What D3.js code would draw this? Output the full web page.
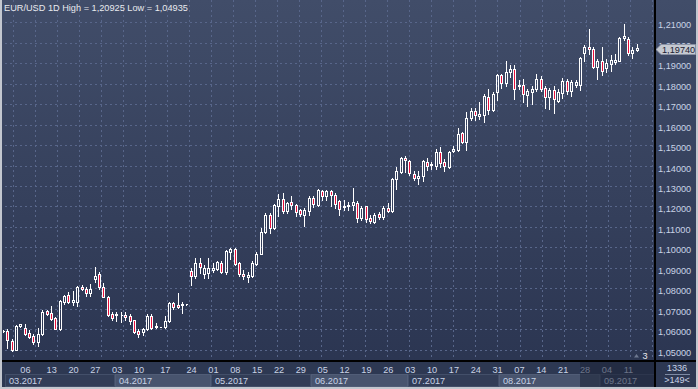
<!DOCTYPE html>
<html>
<head>
<meta charset="utf-8">
<script src="https://cdn.jsdelivr.net/npm/d3@7"></script>
<style>
  html, body { margin: 0; padding: 0; background: #2f3a55; }
  svg { display: block; }
  text { font-family: "Liberation Sans", Arial, sans-serif; }
</style>
</head>
<body>
<svg id="chart" width="698" height="389"></svg>
<script>
// daily EUR/USD candles (oldest first)
const opens = [1.0592,1.0594,1.0544,1.0500,1.0618,1.0609,1.0581,1.0568,1.0541,1.0578,
  1.0689,1.0679,1.0654,1.0602,1.0735,1.0768,1.0736,1.0736,1.0806,1.0796,
  1.0780,1.0844,1.0869,1.0809,1.0760,1.0674,1.0669,1.0669,1.0671,1.0666,
  1.0646,1.0594,1.0589,1.0601,1.0667,1.0612,1.0612,1.0612,1.0641,1.0731,
  1.0720,1.0720,1.0722,1.0885,1.0863,1.0923,1.0869,1.0874,1.0892,1.0895,
  1.0926,1.0880,1.0979,1.0992,1.0925,1.0872,1.0856,1.0859,1.0921,1.0970,
  1.1077,1.1159,1.1093,1.1203,1.1238,1.1180,1.1220,1.1208,1.1184,1.1159,
  1.1180,1.1241,1.1208,1.1277,1.1252,1.1277,1.1257,1.1225,1.1197,1.1200,
  1.1208,1.1216,1.1143,1.1203,1.1143,1.1126,1.1164,1.1148,1.1192,1.1180,
  1.1334,1.1369,1.1438,1.1421,1.1359,1.1339,1.1348,1.1418,1.1403,1.1400,
  1.1465,1.1416,1.1392,1.1470,1.1476,1.1558,1.1514,1.1631,1.1668,1.1642,
  1.1644,1.1733,1.1672,1.1758,1.1842,1.1802,1.1855,1.1872,1.1787,1.1793,
  1.1746,1.1758,1.1774,1.1823,1.1779,1.1733,1.1769,1.1717,1.1753,1.1811,
  1.1761,1.1795,1.1795,1.1948,1.1977,1.1969,1.1880,1.1909,1.1876,1.1893,
  1.1904,1.1912,1.2020,1.2018,1.1948,1.1964];
const highs = [1.0597,1.0601,1.0554,1.0620,1.0628,1.0625,1.0598,1.0578,1.0606,1.0695,
  1.0693,1.0713,1.0661,1.0745,1.0768,1.0781,1.0788,1.0814,1.0817,1.0806,
  1.0820,1.0906,1.0879,1.0825,1.0762,1.0684,1.0684,1.0684,1.0687,1.0674,
  1.0648,1.0602,1.0606,1.0674,1.0677,1.0630,1.0614,1.0667,1.0736,1.0736,
  1.0776,1.0736,1.0724,1.0898,1.0947,1.0947,1.0915,1.0947,1.0923,1.0933,
  1.0933,1.0987,1.0996,1.0998,1.0930,1.0892,1.0880,1.0933,1.0979,1.1093,
  1.1167,1.1170,1.1213,1.1262,1.1266,1.1220,1.1249,1.1213,1.1189,1.1192,
  1.1252,1.1252,1.1285,1.1282,1.1282,1.1282,1.1266,1.1233,1.1233,1.1220,
  1.1290,1.1225,1.1200,1.1203,1.1159,1.1167,1.1175,1.1200,1.1216,1.1339,
  1.1393,1.1443,1.1446,1.1426,1.1372,1.1372,1.1425,1.1438,1.1418,1.1481,
  1.1489,1.1433,1.1473,1.1493,1.1584,1.1563,1.1660,1.1681,1.1681,1.1709,
  1.1750,1.1774,1.1758,1.1847,1.1847,1.1909,1.1888,1.1891,1.1815,1.1823,
  1.1774,1.1790,1.1847,1.1839,1.1790,1.1779,1.1790,1.1774,1.1828,1.1823,
  1.1818,1.1818,1.1928,1.1989,1.2067,1.1977,1.1920,1.1977,1.1920,1.1937,
  1.1945,1.2029,1.20925,1.2026,1.1980,1.1993];
const lows = [1.0586,1.0511,1.04935,1.0498,1.0612,1.0573,1.0557,1.0531,1.0520,1.0573,
  1.0671,1.0646,1.0601,1.0598,1.0726,1.0728,1.0720,1.0717,1.0791,1.0763,
  1.0763,1.0833,1.0796,1.0759,1.0667,1.0646,1.0641,1.0635,1.0646,1.0625,
  1.0581,1.0565,1.0573,1.0598,1.0601,1.0606,1.0610,1.0606,1.0635,1.0700,
  1.0703,1.0679,1.0721,1.0817,1.0850,1.0874,1.0850,1.0850,1.0882,1.0890,
  1.0877,1.0872,1.0946,1.0913,1.0861,1.0848,1.0831,1.0856,1.0913,1.0967,
  1.1069,1.1072,1.1090,1.1154,1.1170,1.1167,1.1189,1.1154,1.1154,1.1105,
  1.1159,1.1197,1.1200,1.1230,1.1233,1.1200,1.1192,1.1159,1.1184,1.1184,
  1.1184,1.1126,1.1134,1.1126,1.1121,1.1121,1.1138,1.1138,1.1175,1.1175,
  1.1287,1.1364,1.1367,1.1356,1.1331,1.1310,1.1323,1.1377,1.1382,1.1384,
  1.1392,1.1372,1.1389,1.1465,1.1470,1.1509,1.1478,1.1623,1.1623,1.1628,
  1.1611,1.1652,1.1665,1.1720,1.1779,1.1790,1.1831,1.1725,1.1774,1.1712,
  1.1688,1.1701,1.1763,1.1763,1.1681,1.1676,1.1657,1.1712,1.1730,1.1750,
  1.1737,1.1785,1.1769,1.1912,1.1945,1.1875,1.1820,1.1842,1.1855,1.1863,
  1.1896,1.1909,1.2013,1.1941,1.1924,1.1958];
const closes = [1.0594,1.0549,1.0500,1.0617,1.0625,1.0580,1.0565,1.0541,1.0580,1.0684,
  1.0674,1.0651,1.0602,1.0740,1.0763,1.0736,1.0744,1.0806,1.0796,1.0780,
  1.0798,1.0862,1.0809,1.0760,1.0671,1.0654,1.0674,1.0672,1.0659,1.0643,
  1.0589,1.0576,1.0601,1.0667,1.0609,1.0619,1.0613,1.0641,1.0731,1.0708,
  1.0708,1.0724,1.0723,1.0863,1.0923,1.0903,1.0898,1.0898,1.0900,1.0930,
  1.0880,1.0982,1.0995,1.0921,1.0869,1.0859,1.0864,1.0926,1.0970,1.1077,
  1.1159,1.1093,1.1208,1.1238,1.1180,1.1216,1.1205,1.1175,1.1164,1.1184,
  1.1241,1.1213,1.1282,1.1249,1.1277,1.1254,1.1213,1.1189,1.1203,1.1208,
  1.1220,1.1143,1.1192,1.1138,1.1131,1.1159,1.1148,1.1192,1.1180,1.1334,
  1.1375,1.1438,1.1425,1.1361,1.1339,1.1351,1.1421,1.1400,1.1405,1.1465,
  1.1411,1.1397,1.1468,1.1481,1.1554,1.1514,1.1631,1.1665,1.1644,1.1649,
  1.1737,1.1673,1.1750,1.1842,1.1802,1.1855,1.1872,1.1771,1.1793,1.1750,
  1.1761,1.1774,1.1823,1.1774,1.1733,1.1766,1.1722,1.1758,1.1811,1.1761,
  1.1807,1.1807,1.1925,1.1980,1.1967,1.1880,1.1912,1.1860,1.1899,1.1915,
  1.1915,1.2023,1.2033,1.1948,1.1964,1.1974];

const yTicks = [1.05,1.06,1.07,1.08,1.09,1.10,1.11,1.12,1.13,1.14,1.15,1.16,1.17,1.18,1.19,1.20,1.21];

// weekly day labels and the candle they sit on
const dayLabels = ["06","13","20","27","03","10","17","24","01","08","15","22","29","05",
  "12","19","26","03","10","17","24","31","07","14","21","28","04","11"];
const dayIdx = [4,10,15,20,25,30,36,42,47,52,57,62,67,72,77,82,87,92,97,102,107,112,117,122,127,132,137,142];

const monthLabels = ["03.2017","04.2017","05.2017","06.2017","07.2017","08.2017","09.2017"];
const monthIdx = [0,25,47,70,92,113,136];

const title = "EUR/USD 1D High = 1,20925 Low = 1,04935";
const lastPrice = 1.1974;

const W = 698, H = 389;
const plotR = 655, plotB = 360;
const N = opens.length;

const svg = d3.select('#chart');

const defs = svg.append('defs');
const grad = defs.append('linearGradient')
  .attr('id', 'bg').attr('x1', 0).attr('y1', 0).attr('x2', 0).attr('y2', 1);
grad.append('stop').attr('offset', '0%').attr('stop-color', '#414d69');
grad.append('stop').attr('offset', '100%').attr('stop-color', '#2a3450');

svg.append('rect').attr('width', W).attr('height', H).attr('fill', 'url(#bg)');

const x = d3.scaleLinear().domain([0, N - 1]).range([3.3, 637.3]);
const y = d3.scaleLinear().domain([1.05, 1.21]).range([350, 22]);
const fmt = v => d3.format('.5f')(v).replace('.', ',');

// grid
const grid = svg.append('g')
  .attr('stroke', '#58668a')
  .attr('stroke-dasharray', '2,3')
  .attr('shape-rendering', 'crispEdges');

grid.selectAll('line.h').data(yTicks).join('line')
  .attr('class', 'h')
  .attr('x1', 0).attr('x2', plotR)
  .attr('y1', d => Math.round(y(d)) + 0.5)
  .attr('y2', d => Math.round(y(d)) + 0.5);

// vertical grid is pixel spaced, not tied to candles
const vGrid = d3.range(651.7, 0, -22.03);
grid.selectAll('line.v').data(vGrid).join('line')
  .attr('class', 'v')
  .attr('x1', d => Math.round(d) + 0.5).attr('x2', d => Math.round(d) + 0.5)
  .attr('y1', 0).attr('y2', plotB);

// candles
const candles = d3.range(N).map(i => ({
  i, o: opens[i], h: highs[i], l: lows[i], c: closes[i]
}));

const cg = svg.append('g').attr('shape-rendering', 'crispEdges');
const candle = cg.selectAll('g').data(candles).join('g');

candle.each(function (d) {
  const g = d3.select(this);
  const px = Math.floor(x(d.i));
  const top = Math.round(y(Math.max(d.o, d.c))) + 0.5;
  const bot = Math.round(y(Math.min(d.o, d.c))) + 0.5;
  const yh = Math.round(y(d.h));
  const yl = Math.round(y(d.l)) + 1;
  if (yh < top - 0.5) {
    g.append('line').attr('x1', px + 0.5).attr('x2', px + 0.5)
      .attr('y1', yh).attr('y2', top - 0.5).attr('stroke', '#ffffff');
  }
  if (yl > bot + 0.5) {
    g.append('line').attr('x1', px + 0.5).attr('x2', px + 0.5)
      .attr('y1', bot + 0.5).attr('y2', yl).attr('stroke', '#ffffff');
  }
  g.append('path')
    .attr('d', `M${px - 0.5},${top}H${px + 1.5}V${bot}H${px - 0.5}Z`)
    .attr('fill', d.c < d.o ? '#e8103c' : 'none')
    .attr('stroke', '#ffffff');
});

// title
svg.append('text')
  .attr('x', 4).attr('y', 11)
  .attr('font-size', 9.2)
  .attr('fill', '#e8eaee')
  .text(title);

// axis area bottom
svg.append('rect').attr('x', 0).attr('y', plotB).attr('width', W).attr('height', H - plotB)
  .attr('fill', '#2d3852');

// month bands
const bandEdge = k => k < monthIdx.length ? Math.round(x(monthIdx[k])) + 2 : plotR;
svg.append('g').selectAll('rect').data(monthLabels).join('rect')
  .attr('x', (d, k) => bandEdge(k) + 0.5)
  .attr('y', 374.5)
  .attr('width', (d, k) => bandEdge(k + 1) - bandEdge(k) - 1)
  .attr('height', 12)
  .attr('fill', (d, k) => k % 2 ? '#48546e' : '#323d57')
  .attr('stroke', (d, k) => k % 2 ? '#515d77' : '#434f69')
  .attr('shape-rendering', 'crispEdges');

svg.append('g').selectAll('text').data(monthLabels).join('text')
  .attr('x', (d, k) => bandEdge(k) + 4)
  .attr('y', 384)
  .attr('font-size', 9.2)
  .attr('fill', '#c9d3e6')
  .text(d => d);

svg.append('g').selectAll('text').data(dayLabels).join('text')
  .attr('x', (d, k) => x(dayIdx[k]) - 0.5)
  .attr('y', 372.5)
  .attr('font-size', 9.2)
  .attr('fill', '#c9d3e6')
  .text(d => d);

// dimmed shift zone at the right of the time axis
svg.append('rect').attr('x', 580).attr('y', plotB + 1).attr('width', plotR - 580).attr('height', 27)
  .attr('fill', '#1c2336').attr('opacity', 0.55);

// price axis labels (the one under the last price tag is clipped like in the terminal)
defs.append('clipPath').attr('id', 'tagclip')
  .append('rect').attr('x', 656).attr('y', 0).attr('width', 42).attr('height', Math.round(y(lastPrice)) - 3.5);
svg.append('g').selectAll('text').data(yTicks).join('text')
  .attr('x', 658)
  .attr('y', d => Math.round(y(d)) + 5.5)
  .attr('font-size', 9.2)
  .attr('fill', '#c9d3e6')
  .attr('clip-path', d => Math.abs(y(d) - y(lastPrice)) < 8 ? 'url(#tagclip)' : null)
  .text(d => fmt(d));

// last price tag
const ly = Math.round(y(lastPrice)) + 1.5;
svg.append('path')
  .attr('d', `M656,${ly}L661,${ly - 5}H695.5V${ly + 5}H661Z`)
  .attr('fill', '#c5c9d1').attr('stroke', '#8a92a3').attr('stroke-width', 0.8);
svg.append('text')
  .attr('x', 662).attr('y', ly + 3.3)
  .attr('font-size', 9.2)
  .attr('fill', '#1b2132')
  .text(fmt(lastPrice));

// bar count box
svg.append('text').attr('x', 677).attr('y', 371).attr('text-anchor', 'middle')
  .attr('font-size', 9.2).attr('fill', '#c9d3e6').text('1336');
svg.append('line').attr('x1', 665).attr('x2', 690).attr('y1', 374.5).attr('y2', 374.5)
  .attr('stroke', '#7d8aa3');
svg.append('text').attr('x', 677).attr('y', 383).attr('text-anchor', 'middle')
  .attr('font-size', 9).attr('fill', '#c9d3e6').text('>149<');

// small marker in the lower right of the plot
svg.append('path').attr('d', 'M634,357.5L636.5,354L639,357.5Z').attr('fill', '#6d7890');
svg.append('text').attr('x', 642.5).attr('y', 359).attr('font-size', 9.2)
  .attr('fill', '#e6e9ee').text('3');

// separators
svg.append('rect').attr('x', 654).attr('y', 0).attr('width', 2).attr('height', H).attr('fill', '#000');
svg.append('rect').attr('x', 0).attr('y', plotB).attr('width', W).attr('height', 2).attr('fill', '#000');

// window frame
const frame = svg.append('g').attr('fill', '#c3c7cf');
frame.append('rect').attr('x', 0).attr('y', 0).attr('width', 2).attr('height', H);
frame.append('rect').attr('x', 0).attr('y', H - 2).attr('width', W).attr('height', 2);
frame.append('rect').attr('x', W - 2).attr('y', 0).attr('width', 2).attr('height', H);
</script>
</body>
</html>
